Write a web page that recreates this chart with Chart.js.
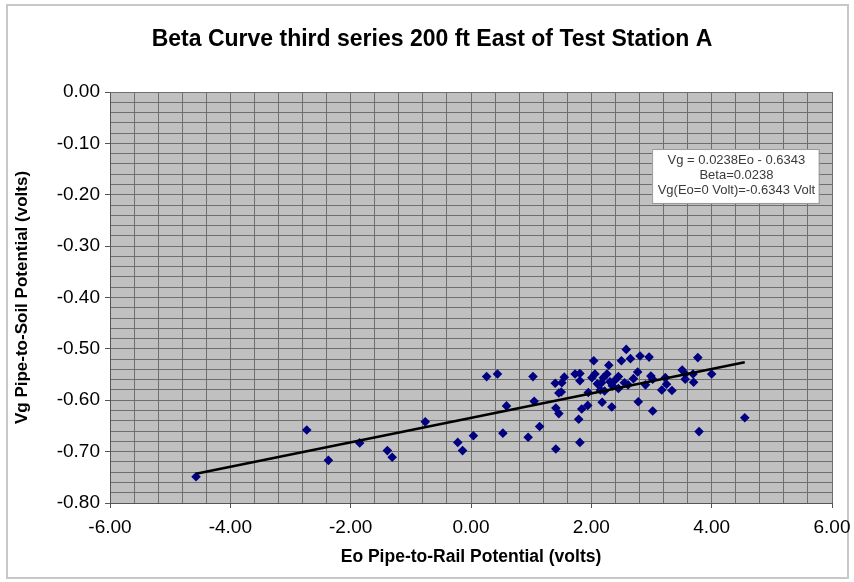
<!DOCTYPE html>
<html>
<head>
<meta charset="utf-8">
<script src="https://cdn.jsdelivr.net/npm/chart.js@4/dist/chart.umd.min.js"></script>
<style>
  html, body { margin: 0; padding: 0; background: #ffffff; }
  #wrap { position: relative; width: 854px; height: 582px; }
  canvas { display: block; }
</style>
</head>
<body>
<div id="wrap"><canvas id="c" width="854" height="582"></canvas></div>
<script>
// ---- data ----
const chartTitle = 'Beta Curve third series 200 ft East of Test Station A';
const xAxisTitle = 'Eo Pipe-to-Rail Potential (volts)';
const yAxisTitle = 'Vg Pipe-to-Soil Potential (volts)';

const eoValues = [
  -4.57, -2.73, -2.37, -1.85, -1.39, -1.31, -0.76, -0.22, -0.14, 0.04,
  0.26, 0.44, 0.53, 0.59, 0.95, 1.03, 1.05, 1.14, 1.41, 1.40,
  1.51, 1.55, 1.46, 1.50, 1.41, 1.46, 1.73, 1.81, 1.81, 1.79,
  1.81, 1.84, 1.94, 1.95, 2.01, 2.04, 2.06, 2.15, 2.17, 2.18,
  2.22, 2.26, 2.29, 2.31, 2.34, 2.45, 2.45, 2.50, 2.58, 2.61,
  2.65, 2.70, 2.77, 2.78, 2.81, 2.90, 2.96, 2.99, 3.02, 3.02,
  3.17, 3.23, 3.25, 3.34, 3.51, 3.56, 3.56, 3.69, 3.70, 3.77,
  3.79, 4.00, 4.55, 2.10, 2.35, 2.40, 2.55, 2.20
];
const vgValues = [
  -0.749, -0.658, -0.717, -0.683, -0.698, -0.711, -0.642, -0.682, -0.698, -0.669,
  -0.554, -0.549, -0.664, -0.611, -0.672, -0.554, -0.602, -0.651, -0.695, -0.567,
  -0.566, -0.555, -0.586, -0.584, -0.615, -0.626, -0.549, -0.548, -0.562, -0.637,
  -0.682, -0.617, -0.610, -0.585, -0.556, -0.523, -0.549, -0.580, -0.566, -0.604,
  -0.582, -0.549, -0.532, -0.564, -0.613, -0.554, -0.577, -0.523, -0.501, -0.570,
  -0.519, -0.558, -0.545, -0.603, -0.514, -0.570, -0.516, -0.553, -0.559, -0.621,
  -0.580, -0.556, -0.569, -0.581, -0.541, -0.549, -0.559, -0.549, -0.565, -0.517,
  -0.661, -0.549, -0.634, -0.568, -0.572, -0.560, -0.566, -0.556
];

// trendline as printed on the chart: Vg = 0.0238Eo - 0.6343
const trendSlope = 0.0238;
const trendIntercept = -0.6343;
const trendX = [-4.57, 4.55];

const annotationLines = [
  'Vg = 0.0238Eo - 0.6343',
  'Beta=0.0238',
  'Vg(Eo=0 Volt)=-0.6343 Volt'
];

const xMin = -6, xMax = 6, xGridStep = 0.4, xLabelStep = 2;
const yMin = -0.8, yMax = 0, yGridStep = 0.02, yLabelStep = 0.1;

// ---- build ----
const scatterPts = eoValues.map((x, i) => ({ x: x, y: vgValues[i] }));
const trendPts = trendX.map(x => ({ x: x, y: trendSlope * x + trendIntercept }));

function isMultiple(v, step) {
  const r = v / step;
  return Math.abs(r - Math.round(r)) < 1e-6;
}

const FONT = "'Liberation Sans', Arial, sans-serif";

const decorPlugin = {
  id: 'decor',
  beforeDraw(chart) {
    const { ctx, chartArea: a } = chart;
    ctx.save();
    ctx.fillStyle = '#ffffff';
    ctx.fillRect(0, 0, chart.width, chart.height);
    ctx.strokeStyle = '#c8c8c8';
    ctx.lineWidth = 2;
    ctx.strokeRect(7, 5, 841, 573);
    ctx.fillStyle = '#c0c0c0';
    ctx.fillRect(a.left, a.top, a.right - a.left, a.bottom - a.top);
    ctx.restore();
  },
  afterDraw(chart) {
    const { ctx } = chart;
    const xs = chart.scales.x, ys = chart.scales.y;
    // annotation box, anchored in data space
    const left = xs.getPixelForValue(3.01);
    const right = xs.getPixelForValue(5.78);
    const top = ys.getPixelForValue(-0.111);
    const bottom = ys.getPixelForValue(-0.216);
    ctx.save();
    ctx.fillStyle = '#ffffff';
    ctx.fillRect(left, top, right - left, bottom - top);
    ctx.strokeStyle = '#9a9a9a';
    ctx.lineWidth = 1;
    ctx.strokeRect(left + 0.5, top + 0.5, right - left, bottom - top);
    ctx.fillStyle = '#3a3a3a';
    ctx.font = '13px ' + FONT;
    ctx.textAlign = 'center';
    ctx.textBaseline = 'middle';
    const cx = (left + right) / 2 + 1;
    annotationLines.forEach((t, i) => {
      ctx.fillText(t, cx, top + 11 + 15 * i);
    });
    ctx.restore();
  }
};

new Chart(document.getElementById('c'), {
  type: 'scatter',
  data: {
    datasets: [
      {
        label: 'Vg',
        data: scatterPts,
        pointStyle: 'rectRot',
        pointRadius: 4.8,
        pointHoverRadius: 4.8,
        backgroundColor: '#000080',
        borderColor: '#000080',
        borderWidth: 0,
        order: 2
      },
      {
        label: 'Trend',
        type: 'line',
        data: trendPts,
        borderColor: '#000000',
        borderWidth: 2.5,
        pointRadius: 0,
        fill: false,
        order: 1
      }
    ]
  },
  plugins: [decorPlugin],
  options: {
    responsive: false,
    animation: false,
    devicePixelRatio: 1,
    layout: { padding: { left: 10, right: 0, top: 0, bottom: 0 } },
    plugins: {
      legend: { display: false },
      tooltip: { enabled: false },
      title: {
        display: true,
        text: chartTitle,
        color: '#000000',
        font: { family: FONT, size: 23, weight: 'bold', lineHeight: 1.2 },
        padding: { top: 26, bottom: 38.4 }
      }
    },
    scales: {
      x: {
        type: 'linear',
        min: xMin, max: xMax,
        afterFit(s) { s.height = 79; s.paddingRight = 22; },
        ticks: {
          stepSize: xGridStep,
          autoSkip: false,
          maxRotation: 0,
          color: '#000000',
          padding: 8,
          font: { family: FONT, size: 19 },
          callback: v => isMultiple(v, xLabelStep) ? v.toFixed(2) : ''
        },
        grid: {
          color: '#6e6e6e',
          lineWidth: 1,
          drawTicks: true,
          tickLength: 5,
          tickColor: c => (c.tick && isMultiple(c.tick.value, xLabelStep)) ? '#555555' : 'rgba(0,0,0,0)'
        },
        border: { display: true, color: '#555555', width: 1 },
        title: {
          display: true,
          text: xAxisTitle,
          color: '#000000',
          font: { family: FONT, size: 17.5, weight: 'bold', lineHeight: 1.2 },
          padding: { top: 4, bottom: 14.5 }
        }
      },
      y: {
        type: 'linear',
        min: yMin, max: yMax,
        afterFit(s) { s.width = 100; },
        ticks: {
          stepSize: yGridStep,
          autoSkip: false,
          color: '#000000',
          padding: 5,
          font: { family: FONT, size: 19 },
          callback: v => isMultiple(v, yLabelStep) ? (Math.abs(v) < 1e-9 ? '0.00' : v.toFixed(2)) : ''
        },
        grid: {
          color: '#6e6e6e',
          lineWidth: 1,
          drawTicks: true,
          tickLength: 5,
          tickColor: c => (c.tick && isMultiple(c.tick.value, yLabelStep)) ? '#555555' : 'rgba(0,0,0,0)'
        },
        border: { display: true, color: '#555555', width: 1 },
        title: {
          display: true,
          text: yAxisTitle,
          color: '#000000',
          font: { family: FONT, size: 17, weight: 'bold', lineHeight: 1.2 },
          padding: { top: 2, bottom: 4 }
        }
      }
    }
  }
});
</script>
</body>
</html>
